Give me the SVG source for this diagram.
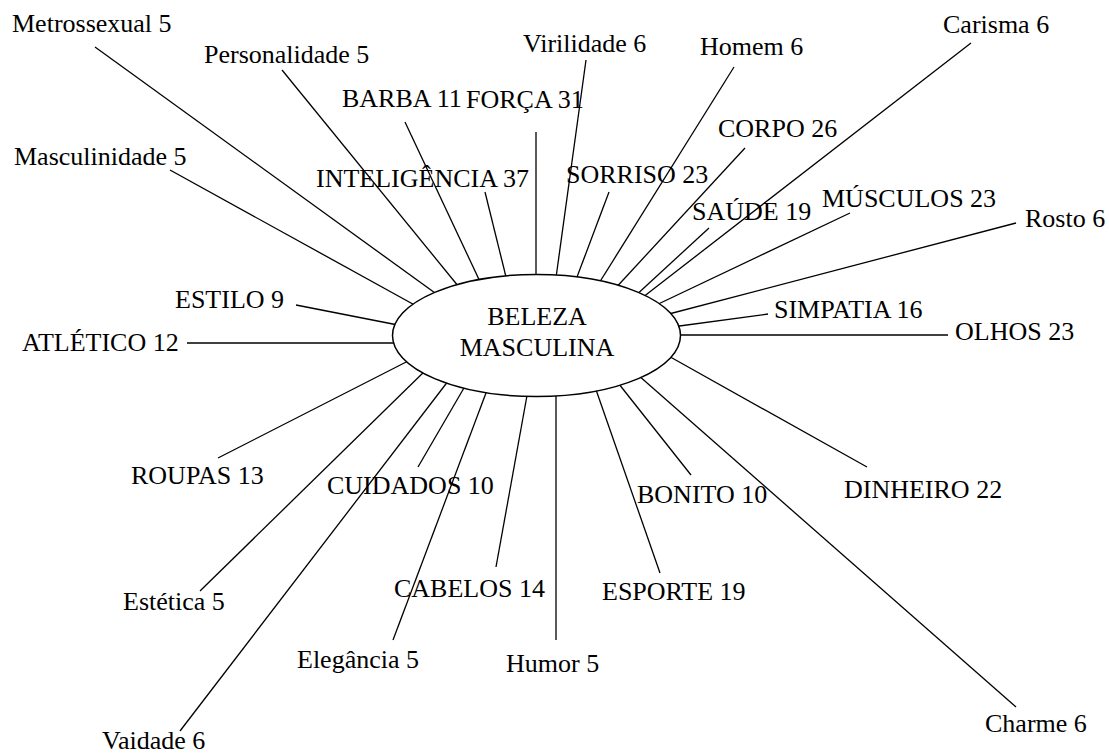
<svg xmlns="http://www.w3.org/2000/svg" width="1109" height="755" viewBox="0 0 1109 755">
<style>
.lbl{font-family:"Liberation Serif","Times New Roman",serif;font-size:26px;fill:#000}
.ctr{font-family:"Liberation Serif","Times New Roman",serif;font-size:26px;fill:#000;text-anchor:middle}
.con line{stroke:#000;stroke-width:1.3;fill:none}
.hub{fill:#fff;stroke:#000;stroke-width:1.5}
</style>
<rect width="1109" height="755" fill="#fff"/>
<g id="connectors" class="con">
<line x1="95" y1="47" x2="442" y2="298"/>
<line x1="282" y1="70" x2="463" y2="292"/>
<line x1="405" y1="122" x2="483" y2="288"/>
<line x1="536" y1="132" x2="536" y2="288"/>
<line x1="170" y1="170" x2="420" y2="308"/>
<line x1="485" y1="192" x2="508" y2="285"/>
<line x1="586" y1="60" x2="555" y2="285"/>
<line x1="734" y1="67" x2="596" y2="288"/>
<line x1="971" y1="43" x2="638" y2="301"/>
<line x1="745" y1="148" x2="612" y2="292"/>
<line x1="609" y1="192" x2="574" y2="285"/>
<line x1="709" y1="228" x2="633" y2="298"/>
<line x1="850" y1="213" x2="652" y2="307"/>
<line x1="1016" y1="223" x2="665" y2="315"/>
<line x1="768" y1="314" x2="672" y2="327"/>
<line x1="948" y1="335" x2="672" y2="335"/>
<line x1="296" y1="305" x2="403" y2="326"/>
<line x1="187" y1="343" x2="400" y2="343"/>
<line x1="218" y1="458" x2="416" y2="357"/>
<line x1="200" y1="591" x2="430" y2="366"/>
<line x1="180" y1="731" x2="452" y2="376"/>
<line x1="418" y1="467" x2="468" y2="381"/>
<line x1="393" y1="640" x2="489" y2="385"/>
<line x1="496" y1="567" x2="528" y2="390"/>
<line x1="556" y1="640" x2="556" y2="388"/>
<line x1="660" y1="573" x2="594" y2="384"/>
<line x1="691" y1="475" x2="615" y2="379"/>
<line x1="1016" y1="707" x2="638" y2="375"/>
<line x1="867" y1="467" x2="665" y2="354"/>
</g>
<g id="n-center">
<ellipse class="hub" cx="536.5" cy="335.5" rx="144" ry="61"/>
<text class="ctr" x="537" y="325">BELEZA</text>
<text class="ctr" x="537" y="356">MASCULINA</text>
</g>
<g id="n-metrossexual"><text class="lbl" x="12" y="32">Metrossexual 5</text></g>
<g id="n-personalidade"><text class="lbl" x="204" y="63">Personalidade 5</text></g>
<g id="n-virilidade"><text class="lbl" x="523" y="52">Virilidade 6</text></g>
<g id="n-homem"><text class="lbl" x="700" y="55">Homem 6</text></g>
<g id="n-carisma"><text class="lbl" x="943" y="33">Carisma 6</text></g>
<g id="n-barba"><text class="lbl" x="342" y="107">BARBA 11</text></g>
<g id="n-forca"><text class="lbl" x="466" y="108">FORÇA 31</text></g>
<g id="n-corpo"><text class="lbl" x="718" y="137">CORPO 26</text></g>
<g id="n-masculinidade"><text class="lbl" x="14" y="165">Masculinidade 5</text></g>
<g id="n-inteligencia"><text class="lbl" x="316" y="187">INTELIGÊNCIA 37</text></g>
<g id="n-sorriso"><text class="lbl" x="566" y="183">SORRISO 23</text></g>
<g id="n-saude"><text class="lbl" x="692" y="220">SAÚDE 19</text></g>
<g id="n-musculos"><text class="lbl" x="822" y="207">MÚSCULOS 23</text></g>
<g id="n-rosto"><text class="lbl" x="1025" y="227">Rosto 6</text></g>
<g id="n-estilo"><text class="lbl" x="175" y="308">ESTILO 9</text></g>
<g id="n-simpatia"><text class="lbl" x="774" y="318">SIMPATIA 16</text></g>
<g id="n-atletico"><text class="lbl" x="22" y="351">ATLÉTICO 12</text></g>
<g id="n-olhos"><text class="lbl" x="955" y="340">OLHOS 23</text></g>
<g id="n-roupas"><text class="lbl" x="131" y="484">ROUPAS 13</text></g>
<g id="n-cuidados"><text class="lbl" x="327" y="494">CUIDADOS 10</text></g>
<g id="n-bonito"><text class="lbl" x="637" y="503">BONITO 10</text></g>
<g id="n-dinheiro"><text class="lbl" x="844" y="498">DINHEIRO 22</text></g>
<g id="n-estetica"><text class="lbl" x="123" y="610">Estética 5</text></g>
<g id="n-cabelos"><text class="lbl" x="394" y="597">CABELOS 14</text></g>
<g id="n-esporte"><text class="lbl" x="602" y="600">ESPORTE 19</text></g>
<g id="n-elegancia"><text class="lbl" x="297" y="668">Elegância 5</text></g>
<g id="n-humor"><text class="lbl" x="506" y="672">Humor 5</text></g>
<g id="n-charme"><text class="lbl" x="985" y="732">Charme 6</text></g>
<g id="n-vaidade"><text class="lbl" x="102" y="749">Vaidade 6</text></g>
</svg>
